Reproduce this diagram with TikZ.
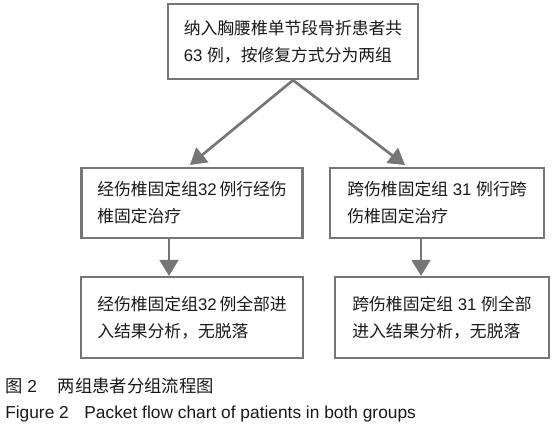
\documentclass[tikz,border=0pt]{standalone}
\usepackage{fontspec}
\setmainfont{Liberation Sans}
\newfontfamily\cjk{Noto Sans CJK SC}
\usepackage{tikz}
\usetikzlibrary{positioning,arrows.meta}
\definecolor{linegray}{RGB}{118,118,118}
\definecolor{textblack}{RGB}{25,25,25}
\begin{document}
\begin{tikzpicture}[x=0.75pt,y=-0.75pt,every node/.style={font=\fontsize{12.6pt}{20.2pt}\selectfont,text=textblack},box/.style={draw=linegray,line width=1.6pt,align=left,inner sep=0pt},arr/.style={-{Triangle[length=12pt,width=14pt]},draw=linegray,fill=linegray,line width=2pt}]
    \useasboundingbox (0,0) rectangle (553,432);
    \node[box,minimum width=187.5pt,minimum height=56.5pt] (all) at (293,41.5) {\cjk 纳入胸腰椎单节段骨折患者共\\63 {\cjk 例，按修复方式分为两组}};
    \node[box,minimum width=165.75pt,minimum height=52.5pt] (jing1) at (192,203) {{\cjk 经伤椎固定组}32\,{\cjk 例行经伤}\\\cjk 椎固定治疗};
    \node[box,minimum width=160.5pt,minimum height=52.5pt] (kua1) at (437,203) {{\cjk 跨伤椎固定组} 31 {\cjk 例行跨}\\\cjk 伤椎固定治疗};
    \node[box,minimum width=166.5pt,minimum height=60.75pt] (jing2) at (192,317.5) {{\cjk 经伤椎固定组}32\,{\cjk 例全部进}\\\cjk 入结果分析，无脱落};
    \node[box,minimum width=160.5pt,minimum height=60.75pt] (kua2) at (442,317.5) {{\cjk 跨伤椎固定组} 31 {\cjk 例全部}\\\cjk 进入结果分析，无脱落};
    \draw[arr] (all.south) -- (190,165);
    \draw[arr] (all.south) -- (405,165);
    \draw[arr] (jing1.south -| 169,0) -- (jing2.north -| 169,0);
    \draw[arr] (kua1.south -| 421,0) -- (kua2.north -| 421,0);
    % caption
    \node[anchor=west,inner sep=0pt,font=\fontsize{13pt}{16pt}\selectfont] (capcn) at (5,386) {{\cjk 图} 2\hspace{1.2em}\cjk 两组患者分组流程图};
    \node[anchor=west,inner sep=0pt,font=\fontsize{13pt}{16pt}\selectfont] (capen) at (5,414) {Figure 2\hspace{0.9em}Packet flow chart of patients in both groups};
\end{tikzpicture}
\end{document}
